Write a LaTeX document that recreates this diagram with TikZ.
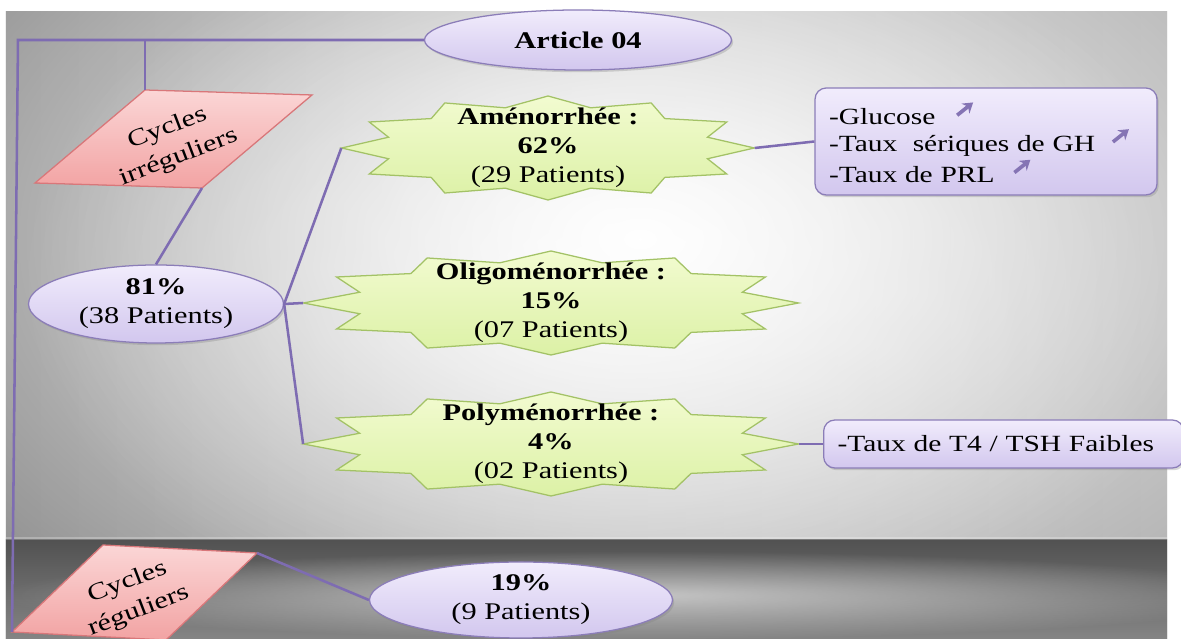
\documentclass[tikz,border=0pt]{standalone}
\usepackage{fontspec}
\setmainfont{Liberation Serif}[FakeStretch=1.27]
\usetikzlibrary{shapes.geometric,shadows,fadings,arrows.meta}

\definecolor{linkc}{HTML}{7E6CB2}
\definecolor{bubbleline}{HTML}{8B7DB8}
\definecolor{bubblehi}{HTML}{F1ECFC}
\definecolor{bubblelo}{HTML}{D2C7EE}
\definecolor{tagline}{HTML}{D9777A}
\definecolor{taghi}{HTML}{FBD6D6}
\definecolor{taglo}{HTML}{F2A3A3}
\definecolor{starline}{HTML}{A3C266}
\definecolor{starhi}{HTML}{F2FBD0}
\definecolor{starlo}{HTML}{DCF1A6}
\definecolor{markc}{HTML}{8574B4}

\tikzfading[name=softspot, inner color=transparent!0, outer color=transparent!100]

\newcommand{\upmark}{\tikz[baseline=-0.24cm]\draw[markc, line width=2.6pt, -{Stealth[length=7pt,width=9pt]}] (0,0) -- (0.4,0.32);}

\tikzset{
  link/.style={linkc, line width=1.8pt},
  bubble/.style={ellipse, draw=bubbleline, line width=0.9pt, top color=bubblehi, bottom color=bubblelo,
    align=center, inner sep=0pt, font=\fontsize{17}{20.6}\selectfont,
    drop shadow={shadow xshift=1.2pt, shadow yshift=-1.6pt, opacity=0.3}},
  starzone/.style={ellipse, inner sep=0pt, minimum height=2.6cm, align=center,
    font=\fontsize{17}{20.6}\selectfont},
  starfill/.style={draw=starline, line width=0.9pt, top color=starhi, bottom color=starlo},
  tag/.style={draw=tagline, line width=0.9pt, top color=taghi, bottom color=taglo},
  tagtext/.style={rotate=21, align=center, font=\fontsize{17}{22}\selectfont},
  infobox/.style={rectangle, rounded corners=8pt, draw=bubbleline, line width=0.9pt,
    top color=bubblehi, bottom color=bubblelo, align=left, inner xsep=0.35cm,
    font=\fontsize{16.5}{19}\selectfont,
    drop shadow={shadow xshift=1.2pt, shadow yshift=-1.6pt, opacity=0.3}},
}

\begin{document}
\begin{tikzpicture}
\useasboundingbox (0,0) rectangle (29.525,15.975);
\clip (0,0) rectangle (29.525,15.975);
\fill[white] (0,0) rectangle (29.525,15.975);

% backdrop
\begin{scope}
\clip (0.15,0) rectangle (29.175,15.675);
\shade[left color=black!48, right color=black!36] (0.15,0) rectangle (29.175,15.675);
\fill[white, path fading=softspot] (16,10) ellipse (23 and 14);
\fill[white, opacity=0.7, path fading=softspot] (15.5,9) ellipse (15 and 9.5);
\shade[top color=black!68, bottom color=black!48] (0,0) rectangle (29.525,2.475);
\fill[white, opacity=0.6, path fading=softspot] (16,1.1) ellipse (16 and 1.1);
\fill[white, opacity=0.25] (0,2.475) rectangle (29.525,2.55);
\end{scope}

% pink tags
\coordinate (irrTL) at (3.625,13.725);
\coordinate (irrTR) at (7.8,13.6);
\coordinate (irrBR) at (5.05,11.275);
\coordinate (irrBL) at (0.875,11.4);
\filldraw[tag] (irrTL) -- (irrTR) -- (irrBR) -- (irrBL) -- cycle;
\node[tagtext] (irr) at (4.325,12.4) {Cycles\\irréguliers};

\coordinate (regTL) at (2.575,2.35);
\coordinate (regTR) at (6.425,2.15);
\coordinate (regBR) at (4.15,-0.025);
\coordinate (regBL) at (0.3,0.175);
\filldraw[tag] (regTL) -- (regTR) -- (regBR) -- (regBL) -- cycle;
\node[tagtext] (reg) at (3.325,1.05) {Cycles\\réguliers};

% stars
\foreach \cx/\cy/\a in {13.7/12.275/5.16, 13.775/8.4/6.19, 13.775/4.875/6.19}
  \draw[starfill, shift={(\cx,\cy)}] plot[samples at={0,15,...,345}, variable=\t]
    ({\a*cos(\t)*(mod(\t,30)==0 ? 1 : 0.8)}, {1.3*sin(\t)*(mod(\t,30)==0 ? 1 : 0.8)}) -- cycle;

\node[starzone, minimum width=10.32cm] (ame) at (13.7,12.275) {\textbf{Aménorrhée :}\\\textbf{62\%}\\(29 Patients)};
\node[starzone, minimum width=12.38cm] (oli) at (13.775,8.4) {\textbf{Oligoménorrhée :}\\\textbf{15\%}\\(07 Patients)};
\node[starzone, minimum width=12.38cm] (pol) at (13.775,4.875) {\textbf{Polyménorrhée :}\\\textbf{4\%}\\(02 Patients)};

% ellipses
\node[bubble, minimum width=7.675cm, minimum height=1.5cm] (art) at (14.45,14.975) {\textbf{Article 04}};
\node[bubble, minimum width=6.375cm, minimum height=1.95cm] (p81) at (3.9,8.375) {\textbf{81\%}\\(38 Patients)};
\node[bubble, minimum width=7.575cm, minimum height=1.9cm] (p19) at (13.025,0.975) {\textbf{19\%}\\(9 Patients)};

% boxes
\node[infobox, text width=7.85cm, minimum height=2.675cm] (glu) at (24.65,12.4375)
  {-Glucose\hspace{0.5cm}\upmark\\-Taux\ \ sériques de GH\hspace{0.4cm}\upmark\\-Taux de PRL\hspace{0.45cm}\upmark};
\node[infobox, anchor=west, text width=8.3cm, minimum height=1.2cm] (t4) at (20.575,4.875) {-Taux de T4 / TSH Faibles};

% links
\coordinate (tl) at (0.45,14.975);
\coordinate (tm) at (3.625,14.975);
\draw[link] (art.west) -- (tl) -- (regBL);
\draw[link] (tm) -- (irrTL);
\draw[link] (irrBR) -- (p81.north);
\draw[link] (p81.east) -- (ame.west);
\draw[link] (p81.east) -- (oli.west);
\draw[link] (p81.east) -- (pol.west);
\draw[link] (ame.east) -- (glu.west);
\draw[link] (pol.east) -- (t4.west);
\draw[link] (regTR) -- (p19.west);
\end{tikzpicture}
\end{document}
